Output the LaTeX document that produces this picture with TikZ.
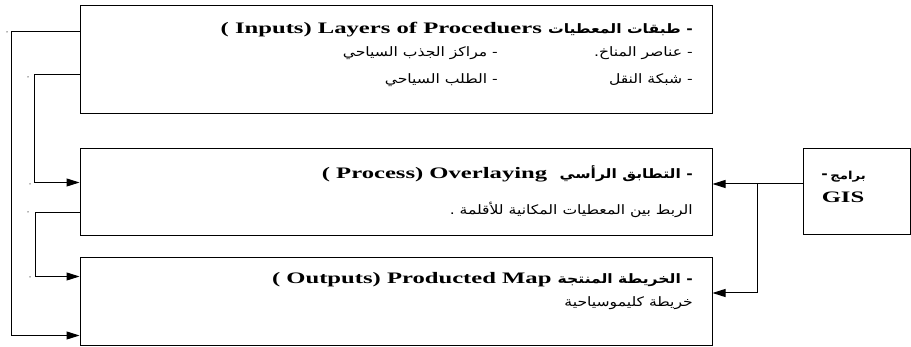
\documentclass[tikz,border=0pt]{standalone}
\usepackage{fontspec}
\setmainfont{Liberation Serif}[FakeStretch=1.54]
\newfontfamily\arabicfont[Script=Arabic,FakeStretch=1.2]{DejaVu Sans}
\TeXXeTstate=1
\usetikzlibrary{arrows.meta}
\newcommand{\artxt}[1]{{\arabicfont\beginR #1\endR}}
\newcommand{\arhead}[1]{{\arabicfont\fontsize{13}{15}\selectfont\beginR #1\endR}}
\tikzset{
  stage/.style={draw, line width=1pt, minimum width=632pt, inner sep=0pt},
  link/.style={line width=1pt},
  feed/.style={link, -{Triangle[length=13pt,width=8pt]}},
  head/.style={anchor=east, inner sep=0pt, font=\fontsize{16}{18}\selectfont\bfseries},
  item/.style={anchor=east, inner sep=0pt, font=\arabicfont\fontsize{13}{15}\selectfont},
  speck/.style={fill=black!60, inner sep=0pt, minimum size=1.5pt, circle},
}
\begin{document}
\begin{tikzpicture}[x=1pt, y=-1pt]
  \useasboundingbox (0,0) rectangle (911,347);

  % the three stages and the software box
  \node[stage, minimum height=108pt] (inputs) at (396,60) {};
  \node[stage, minimum height=87pt] (process) at (396,192.5) {};
  \node[stage, minimum height=88pt] (outputs) at (396,302) {};
  \node[draw, line width=1pt, minimum width=107pt, minimum height=86pt, inner sep=0pt] (gis) at (856.5,192) {};

  % inputs
  \node[head] (inhead) at (693,30) {( Inputs) Layers of Proceduers \arhead{- طبقات المعطيات}};
  \node[item] (clim) at (693,53) {\artxt{- عناصر المناخ.}};
  \node[item] (attr) at (498,53) {\artxt{- مراكز الجذب السياحي}};
  \node[item] (trans) at (693,80) {\artxt{- شبكة النقل}};
  \node[item] (demand) at (498,80) {\artxt{- الطلب السياحي}};

  % process
  \node[head] (prhead) at (693,174) {( Process) Overlaying\ \ \arhead{- التطابق الرأسي}};
  \node[item] (link) at (693,210) {\artxt{الربط بين المعطيات المكانية للأقلمة .}};

  % outputs
  \node[head] (outhead) at (693,280) {( Outputs) Producted Map \arhead{- الخريطة المنتجة}};
  \node[item] (climap) at (693,303) {\artxt{خريطة كليموسياحية}};

  % software
  \node[item, font=\arabicfont\fontsize{11}{13}\selectfont\bfseries] (gisar) at (866,177) {\artxt{برامج}};
  \node[item, font=\arabicfont\fontsize{13}{15}\selectfont\bfseries] (gisdash) at (828,176) {-};
  \node[head, anchor=center] (gisname) at (843,197) {GIS};

  % feedback lines on the left
  \draw[feed] ([yshift=-26pt]inputs.north west) -- ++(-68,0) |- ([yshift=11pt]outputs.south west);
  \draw[feed] ([yshift=-69pt]inputs.north west) -- ++(-45,0) |- ([yshift=-34pt]process.north west);
  \draw[feed] ([yshift=24pt]process.south west) -- ++(-44,0) |- ([yshift=-19pt]outputs.north west);

  % GIS feeds process and outputs
  \coordinate (g) at ([yshift=8pt]gis.west);
  \draw[feed] (g) -- (g -| process.east);
  \draw[feed] ([xshift=-45pt]g) |- ([yshift=9pt]outputs.east);

  % stray dots
  \foreach \p in {(7,32),(28,77),(30,184),(28,212),(30,277)}
    \node[speck] at \p {};
\end{tikzpicture}
\end{document}
